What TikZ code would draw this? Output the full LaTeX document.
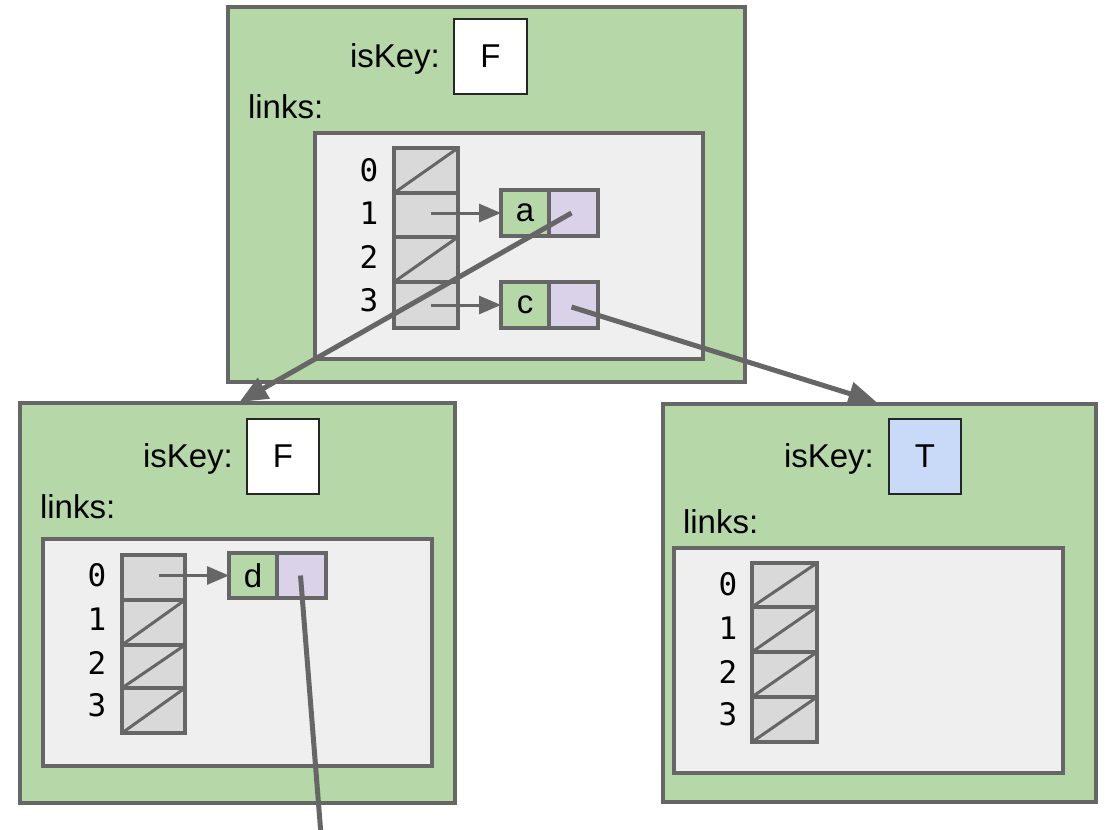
\documentclass[tikz,border=0pt]{standalone}
\usepackage{fontspec}
\setmainfont{Liberation Sans}
\newfontfamily\idxfont{DejaVu Sans Mono}
\usetikzlibrary{arrows.meta,fit,calc}
\definecolor{edge}{HTML}{666666}
\definecolor{nodegreen}{HTML}{B6D7A8}
\definecolor{innergray}{HTML}{EFEFEF}
\definecolor{cellgray}{HTML}{D9D9D9}
\definecolor{purp}{HTML}{D9D2E9}
\definecolor{tblue}{HTML}{C9DAF8}
\begin{document}
\begin{tikzpicture}[x=1pt,y=-1pt,
  every node/.style={inner sep=0pt, outer sep=0pt},
  outerbox/.style={draw=edge, line width=3.5pt, fill=nodegreen},
  innerbox/.style={draw=edge, line width=3.5pt, fill=innergray},
  valbox/.style={draw=black!85, line width=1.6pt, fill=white},
  cell/.style={draw=edge, line width=3.5pt, fill=cellgray},
  keybox/.style={draw=edge, line width=3.5pt, fill=nodegreen},
  ptrbox/.style={draw=edge, line width=3.5pt, fill=purp},
  txt/.style={font=\fontsize{33}{40}\selectfont},
  lbl/.style={font=\fontsize{33}{40}\selectfont, anchor=base west},
  idx/.style={font=\idxfont\fontsize{31}{36}\selectfont, anchor=base},
  nullline/.style={draw=edge, line width=3pt},
  link/.style={draw=edge, line width=3pt, -{Triangle[length=22pt,width=18pt]}},
  bigarrow/.style={draw=edge, line width=5pt, -{Triangle[length=28pt,width=23pt]}},
  bigline/.style={draw=edge, line width=5pt},
]
\useasboundingbox (0,0) rectangle (1106,830);

% ---------- top node ----------
\node[outerbox, fit={(228,7) (745,382)}] (top) {};
\node[lbl] (topiskey) at (350,67) {isKey:};
\node[valbox, fit={(454,19) (527,94)}] (topval) {};
\node[txt] (topvaltxt) at (topval.center) {F};
\node[lbl] (toplinks) at (248,118) {links:};
\node[innerbox, fit={(315,133) (703,359)}] (topin) {};
\node[cell, fit={(394,148) (458,193)}] (tc0) {};
\node[cell, fit={(394,193) (458,237)}] (tc1) {};
\node[cell, fit={(394,237) (458,282)}] (tc2) {};
\node[cell, fit={(394,282) (458,328)}] (tc3) {};
\draw[nullline] (tc0.south west) -- (tc0.north east);
\draw[nullline] (tc2.south west) -- (tc2.north east);
\node[idx] (ti0) at (369,181) {0};
\node[idx] (ti1) at (369,224) {1};
\node[idx] (ti2) at (369,268) {2};
\node[idx] (ti3) at (369,311) {3};
\node[keybox, fit={(501,190) (549,236)}] (ak) {};
\node[txt] (aktxt) at (ak.center) {a};
\node[ptrbox, fit={(549,190) (598,236)}] (ap) {};
\node[keybox, fit={(501,282) (549,328)}] (ck) {};
\node[txt] (cktxt) at (ck.center) {c};
\node[ptrbox, fit={(549,282) (598,328)}] (cp) {};
\draw[link] ($(tc1.center)+(5,-2)$) -- (ak.west);
\draw[link] ($(tc3.center)+(5,0)$) -- (ck.west);

% ---------- bottom-left node ----------
\node[outerbox, fit={(20,403) (455,803)}] (bl) {};
\node[lbl] (bliskey) at (143,467) {isKey:};
\node[valbox, fit={(247,419) (319,494)}] (blval) {};
\node[txt] (blvaltxt) at (blval.center) {F};
\node[lbl] (bllinks) at (40,518) {links:};
\node[innerbox, fit={(43,539) (432,766)}] (blin) {};
\node[cell, fit={(122,555) (185,600)}] (lc0) {};
\node[cell, fit={(122,600) (185,645)}] (lc1) {};
\node[cell, fit={(122,645) (185,688)}] (lc2) {};
\node[cell, fit={(122,688) (185,733)}] (lc3) {};
\draw[nullline] (lc1.south west) -- (lc1.north east);
\draw[nullline] (lc2.south west) -- (lc2.north east);
\draw[nullline] (lc3.south west) -- (lc3.north east);
\node[idx] (li0) at (97,586) {0};
\node[idx] (li1) at (97,630) {1};
\node[idx] (li2) at (97,674) {2};
\node[idx] (li3) at (97,716) {3};
\node[keybox, fit={(229,553) (277,598)}] (dk) {};
\node[txt] (dktxt) at (dk.center) {d};
\node[ptrbox, fit={(277,553) (326,598)}] (dp) {};
\draw[link] ($(lc0.center)+(5,-2)$) -- (dk.west);

% ---------- bottom-right node ----------
\node[outerbox, fit={(663,404) (1096,802)}] (br) {};
\node[lbl] (briskey) at (784,467) {isKey:};
\node[valbox, fill=tblue, fit={(889,419) (961,494)}] (brval) {};
\node[txt] (brvaltxt) at (brval.center) {T};
\node[lbl] (brlinks) at (683,533) {links:};
\node[innerbox, fit={(674,548) (1063,773)}] (brin) {};
\node[cell, fit={(752,563) (817,607)}] (rc0) {};
\node[cell, fit={(752,607) (817,652)}] (rc1) {};
\node[cell, fit={(752,652) (817,697)}] (rc2) {};
\node[cell, fit={(752,697) (817,742)}] (rc3) {};
\draw[nullline] (rc0.south west) -- (rc0.north east);
\draw[nullline] (rc1.south west) -- (rc1.north east);
\draw[nullline] (rc2.south west) -- (rc2.north east);
\draw[nullline] (rc3.south west) -- (rc3.north east);
\node[idx] (ri0) at (728,595) {0};
\node[idx] (ri1) at (728,639) {1};
\node[idx] (ri2) at (728,683) {2};
\node[idx] (ri3) at (728,725) {3};

% ---------- big links ----------
\coordinate (bltop) at ($(bl.north)+(2,-1)$);
\coordinate (brtop) at ($(br.north)+(-3,-2)$);
\coordinate (dend) at (321,835);
\draw[bigarrow] ($(ap.center)+(-2,0)$) -- (bltop);
\draw[bigarrow] ($(cp.center)+(-2,2)$) -- (brtop);
\draw[bigline] ($(dp.center)+(-1,0)$) -- (dend);
\end{tikzpicture}
\end{document}
